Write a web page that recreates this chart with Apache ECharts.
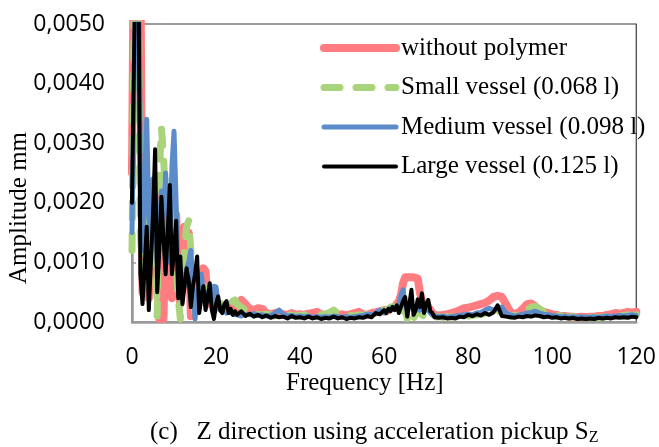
<!DOCTYPE html>
<html><head><meta charset="utf-8">
<script src="https://cdn.jsdelivr.net/npm/echarts@6/dist/echarts.min.js"></script>
<style>html,body{margin:0;padding:0;background:#fff}#c{width:659px;height:447px}</style>
</head><body><div id="c"></div>
<script>
// Frequency grid [Hz]
const freqHz = [
  0,0.5,1,1.5,2,2.5,3,3.5,4,4.5,5,5.5,6,6.5,7,7.5,8,8.5,9,9.5,10,10.5,11,11.5,12,12.5,13,13.5,14,14.5,15,15.5,16,16.5,17,17.5,18,18.5,19,19.5,20,20.5,21,21.5,22,22.5,23,23.5,24,24.5,
  25,26,27,28,29,30,31,32,33,34,35,36,37,38,39,40,41,42,43,44,45,46,47,48,49,50,51,52,53,54,55,56,57,58,59,
  60,60.5,61,61.5,62,62.5,63,63.5,64,64.5,65,65.5,66,66.5,67,67.5,68,68.5,69,69.5,70,70.5,71,71.5,
  72,73,74,75,76,77,78,79,80,81,82,83,84,85,86,87,88,89,90,91,92,93,94,95,96,97,98,99,100,101,102,103,104,105,106,107,108,109,110,111,112,113,114,115,116,117,118,119,120
];
// Amplitudes in units of 0.0001 mm
const withoutPolymer = [
  25,70,55,75,60,5,12,18,4,14,20,22,8,0.5,10,0.5,18,20,12,4,14,18,8,3,10,16,14,15,1,5,7,4,5,7,9,8.5,3,5,5,2,3.5,2.5,3,2,2.5,2,2.5,2,2.5,2,
  2.5,3.7,3.0,2.2,2.0,2.3,2.2,1.5,1.3,1.5, 1.4,1.3,1.2,1.5,1.2,1.3,1.2,1.4,1.5,1.7, 1.3,1.2,1.3,1.5,1.2,1.3,1.1,1.3,1.5,1.7, 1.3,1.2,1.5,1.6,1.8,
  2.0,1.8,2.0,2.2,2.4,2.6,3.0,3.5,4.5,6.5,7.5,7.5,7.5,7.5,7.5,7.4,7.3,5.0,3.5,3.0,2.8,2.5,2.0,1.5,
  1.2,1.1,1.2,1.3,1.5,1.7,2.0,2.3,2.4, 2.6,2.8,3.0,3.2,3.6,4.2,4.4,4.2,3.0,1.7, 1.3,1.6,2.2,3.0,3.1,2.6,2.0,1.7,1.5,1.3, 1.2,1.0,1.0,0.9,0.9,0.8,0.9,0.8,0.9,0.9, 1.0,1.0,1.2,1.3,1.5,1.4,1.5,1.7,1.6,1.7
];
const smallVessel = [
  12,50,70,55,15,8,20,14,6,16,22,18,1,25,32.5,28,20,12,18,24,16,10,4,0.5,8,12,16,17,12,4,1.5,3,4,5,6,3,4,5,2.5,3,4,3,2.5,3,2.5,2,2.5,3,3.5,3.7,
  3.0,2.5,2.0,1.6,1.5,1.3,1.2,1.3,1.2,1.0, 1.2,1.1,1.3,1.1,1.0,1.1,1.2,1.0,1.1,1.0, 1.2,1.3,1.6,2.0,1.5,1.2,1.0,1.1,1.0,1.2, 1.1,1.3,1.5,1.8,2.0,
  1.8,2.0,2.2,2.5,2.5,2.6,2.4,2.0,1.5,1.0,2.5,0.5,1.5,1.0,0.5,1.5,2.0,1.5,1.2,1.0,1.3,1.5,1.2,1.0,
  0.8,0.9,0.8,0.9,0.8,1.0,0.9,1.1,1.0, 1.1,1.2,1.3,1.4,1.5,1.6,1.8,1.6,1.3,1.0, 1.1,1.3,1.6,2.0,2.5,2.6,2.2,1.7,1.4,1.2, 1.1,1.0,0.9,0.8,0.9,0.8,0.7,0.8,0.7,0.8, 0.7,0.8,0.9,1.0,1.1,1.0,1.1,1.2,1.1,1.2
];
const mediumVessel = [
  15,40,60,70,25,12,22,34,18,12,24,20,10,16,22,18,25,14,10,26,32,20,8,4,8,6,9,10,12,6,0.5,4,6,8,5,3,5,4,3,6,5.9,3,2,2.5,2,1.5,2,1.5,1.5,1.2,
  1.2,1.0,1.3,1.2,1.4,1.1,1.2,1.0,1.1,1.5, 2.0,1.3,1.0,1.1,0.9,1.0,0.9,1.0,0.8,0.9, 0.8,0.9,0.8,1.0,0.9,0.8,0.9,0.8,0.9,1.0, 1.1,1.3,1.2,1.5,2.0,
  1.5,1.8,2.0,2.3,2.5,2.2,2.5,2.8,4.5,5.4,3.0,2.0,3.0,2.5,2.0,2.5,3.0,2.0,2.5,1.8,2.0,2.2,1.5,1.2,
  1.0,0.9,1.0,0.8,0.9,1.0,1.1,1.2,1.3, 1.2,1.5,1.6,2.0,2.3,2.0,2.2,2.5,1.5,1.2, 1.0,1.1,1.3,1.5,1.6,1.8,1.5,1.3,1.2,1.1, 1.0,0.9,1.0,0.8,0.9,0.8,0.9,0.8,0.8,0.9, 0.8,0.9,1.0,0.9,1.0,1.1,1.0,1.1,1.2,1.1
];
const largeVessel = [
  20,45,70,65,8,3,9,16,2,10,18,29,5,12,21,14,8,15,23,8,12,17,4,11,3,6,9,7,2.5,6,8,11,1.5,4,6,2,4,6.5,2,0.5,3,4.3,2,1.5,3,3.5,1.5,2.2,1.2,1.8,
  1.2,1.8,1.0,1.4,0.9,1.2,0.8,1.1,0.7,1.0, 0.8,0.9,0.6,1.0,0.7,0.8,0.6,0.9,0.6,0.8, 0.5,0.7,0.6,0.9,0.6,0.8,0.5,0.7,0.6,0.8, 0.7,1.0,0.8,1.5,1.3,
  2.0,1.5,2.2,1.8,2.5,2.0,2.8,1.5,2.5,3.5,4.2,0.9,3.0,5.4,1.2,2.0,3.8,2.5,4.8,1.5,3.0,3.7,1.8,1.5,
  0.8,0.7,0.8,0.6,0.7,0.6,0.9,0.8,1.2, 1.0,1.3,1.1,1.5,1.2,1.6,2.8,1.0,0.9,0.8, 0.7,0.9,0.8,1.0,0.9,1.1,1.0,0.8,0.9,0.7, 0.8,0.6,0.7,0.6,0.7,0.5,0.6,0.5,0.6,0.5, 0.7,0.6,0.7,0.6,0.8,0.7,0.8,0.7,0.9,0.8
];
const seriesNames = ['without polymer', 'Small vessel (0.068 l)', 'Medium vessel (0.098 l)', 'Large vessel (0.125 l)'];
const xTicks = [0, 20, 40, 60, 80, 100, 120];
const yTicks = [0, 0.001, 0.002, 0.003, 0.004, 0.005];

[withoutPolymer, smallVessel, mediumVessel, largeVessel].forEach((a, i) => {
  if (a.length !== freqHz.length) console.error('length mismatch', i, a.length, freqHz.length);
});
const toPairs = arr => freqHz.map((f, i) => [f, arr[i] * 1e-4]);

const serif = '"Liberation Serif", "Times New Roman", serif';
const sans = '"Open Sans", "Noto Sans", sans-serif';
const styles = [
  { color: '#FF7C80', width: 8, type: 'solid' },
  { color: '#A9D47C', width: 7, type: [16, 16] },
  { color: '#5B8BC8', width: 5, type: 'solid' },
  { color: '#000000', width: 4, type: 'solid' }
];
const dataArrs = [withoutPolymer, smallVessel, mediumVessel, largeVessel];

const chart = echarts.init(document.getElementById('c'), null, { renderer: 'canvas' });
chart.setOption({
  animation: false,
  backgroundColor: '#ffffff',
  grid: { left: 132, right: 18, top: 24, bottom: 125, show: true, borderColor: '#3a3a3a', borderWidth: 1.2, backgroundColor: 'transparent' },
  title: [
    { text: 'Frequency [Hz]', left: 286, top: 371, padding: 0, textStyle: { fontFamily: serif, fontSize: 25, fontWeight: 'normal', color: '#000' } },
    { text: '{a|(c)   Z direction using acceleration pickup S}{s|Z}', left: 150, top: 417, padding: 0,
      textStyle: { fontWeight: 'normal', rich: {
        a: { fontFamily: serif, fontSize: 25, fontWeight: 'normal', color: '#000', lineHeight: 30 },
        s: { fontFamily: serif, fontSize: 16, fontWeight: 'normal', color: '#000', lineHeight: 30, padding: [12, 0, 0, 0] }
      } } }
  ],
  graphic: [
    { type: 'text', x: 19, y: 208, rotation: Math.PI / 2,
      style: { text: 'Amplitude mm', fontFamily: serif, fontSize: 25, fill: '#000', align: 'center', verticalAlign: 'middle' } }
  ],
  legend: {
    orient: 'vertical', left: 320, top: 35.5, padding: 0,
    itemWidth: 72, itemHeight: 14, itemGap: 14.5,
    textStyle: { fontFamily: serif, fontSize: 25, color: '#000', lineHeight: 25 },
    data: seriesNames.map((n, i) => ({ name: n,
      itemStyle: { opacity: 0 },
      lineStyle: { width: styles[i].width, color: styles[i].color, type: styles[i].type, cap: 'round' } }))
  },
  xAxis: {
    type: 'value', min: 0, max: 120, interval: 20,
    axisLine: { show: true, lineStyle: { color: '#9a9a9a', width: 2.5 } },
    axisTick: { show: false },
    splitLine: { show: false },
    axisLabel: { margin: 24, fontFamily: sans, fontSize: 23, color: '#000',
      customValues: xTicks }
  },
  yAxis: {
    type: 'value', min: 0, max: 0.005, interval: 0.001,
    axisLine: { show: true, lineStyle: { color: '#9a9a9a', width: 2.5 } },
    axisTick: { show: true, inside: true, length: 4, lineStyle: { color: '#9a9a9a', width: 1.5 } },
    splitLine: { show: false },
    axisLabel: { margin: 27, fontFamily: sans, fontSize: 23, color: '#000',
      formatter: v => v.toFixed(4).replace('.', ',') }
  },
  series: dataArrs.map((arr, i) => ({
    name: seriesNames[i], type: 'line', data: toPairs(arr),
    showSymbol: false, symbol: 'none', symbolSize: 0, clip: true,
    lineStyle: { color: styles[i].color, width: styles[i].width, type: styles[i].type, cap: 'round', join: 'round' },
    itemStyle: { color: styles[i].color },
    z: 2 + i
  }))
});
</script>
</body></html>
